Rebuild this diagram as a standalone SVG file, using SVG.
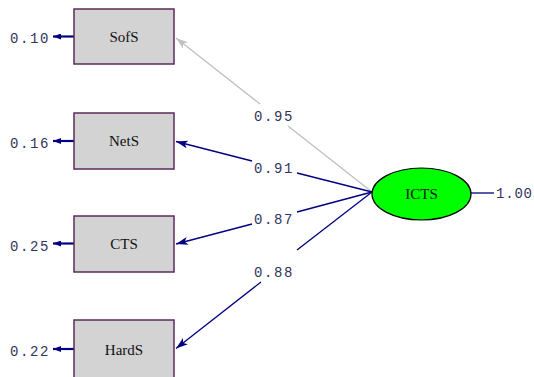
<svg xmlns="http://www.w3.org/2000/svg" width="534" height="377" viewBox="0 0 534 377">
<style>
.box{fill:#d3d3d3;stroke:#5e2a5e;stroke-width:1.5}
.lbl{font-family:"Liberation Serif",serif;font-size:15px;fill:#111;text-anchor:middle}
.num{font-family:"Liberation Mono",monospace;font-size:14px;fill:#33335a;letter-spacing:1.6px}
.nv{stroke:#000080;stroke-width:1.3;fill:none}
.gr{stroke:#c0c0c0;stroke-width:1.3;fill:none}
.err{stroke:#000080;stroke-width:2.2;fill:none}
</style>
<defs>
<marker id="an" viewBox="0 0 12 8" refX="12" refY="4" markerWidth="12" markerHeight="8" markerUnits="userSpaceOnUse" orient="auto"><path d="M0,0 L12,4 L0,8 L3,4 Z" fill="#000080"/></marker>
<marker id="ag" viewBox="0 0 12 8" refX="12" refY="4" markerWidth="12" markerHeight="8" markerUnits="userSpaceOnUse" orient="auto"><path d="M0,0 L12,4 L0,8 L3,4 Z" fill="#c0c0c0"/></marker>
<marker id="ae" viewBox="0 0 8 6" refX="8" refY="3" markerWidth="8" markerHeight="6" markerUnits="userSpaceOnUse" orient="auto"><path d="M0,0 L8,3 L0,6 Z" fill="#000080"/></marker>
</defs>
<g id="connectors">
<line class="gr" x1="372" y1="192" x2="288" y2="126"/>
<line class="gr" x1="260" y1="104" x2="176" y2="38" marker-end="url(#ag)"/>
<line class="nv" x1="372" y1="192" x2="297" y2="173"/>
<line class="nv" x1="252" y1="161" x2="176" y2="141.5" marker-end="url(#an)"/>
<line class="nv" x1="372" y1="192" x2="297" y2="212"/>
<line class="nv" x1="252" y1="224" x2="176" y2="244" marker-end="url(#an)"/>
<line class="nv" x1="372" y1="192" x2="297" y2="250"/>
<line class="nv" x1="261" y1="282" x2="176" y2="348.5" marker-end="url(#an)"/>
<line class="err" x1="74" y1="36.5" x2="53" y2="36.5" marker-end="url(#ae)"/>
<line class="err" x1="74" y1="141" x2="53" y2="141" marker-end="url(#ae)"/>
<line class="err" x1="74" y1="243.5" x2="53" y2="243.5" marker-end="url(#ae)"/>
<line class="err" x1="74" y1="349" x2="53" y2="349" marker-end="url(#ae)"/>
<line class="nv" x1="471" y1="193" x2="494" y2="193"/>
<text class="num" x="254" y="121">0.95</text>
<text class="num" x="254" y="173">0.91</text>
<text class="num" x="254" y="224">0.87</text>
<text class="num" x="254" y="277">0.88</text>
</g>
<g id="SofS"><rect class="box" x="74" y="9" width="100" height="55"/><text class="lbl" x="124" y="42">SofS</text><text class="num" x="10" y="43">0.10</text></g>
<g id="NetS"><rect class="box" x="74" y="113" width="100" height="56"/><text class="lbl" x="124" y="146">NetS</text><text class="num" x="10" y="148">0.16</text></g>
<g id="CTS"><rect class="box" x="74" y="216" width="100" height="56"/><text class="lbl" x="124" y="249">CTS</text><text class="num" x="10" y="251">0.25</text></g>
<g id="HardS"><rect class="box" x="74" y="320" width="100" height="58"/><text class="lbl" x="124" y="355">HardS</text><text class="num" x="10" y="356">0.22</text></g>
<g id="ICTS"><ellipse cx="421.5" cy="194" rx="49.5" ry="26" fill="#00ff00" stroke="#000" stroke-width="1.2"/><text class="lbl" x="421.5" y="199">ICTS</text><text class="num" x="496" y="198" style="letter-spacing:0.8px">1.00</text></g>
</svg>
